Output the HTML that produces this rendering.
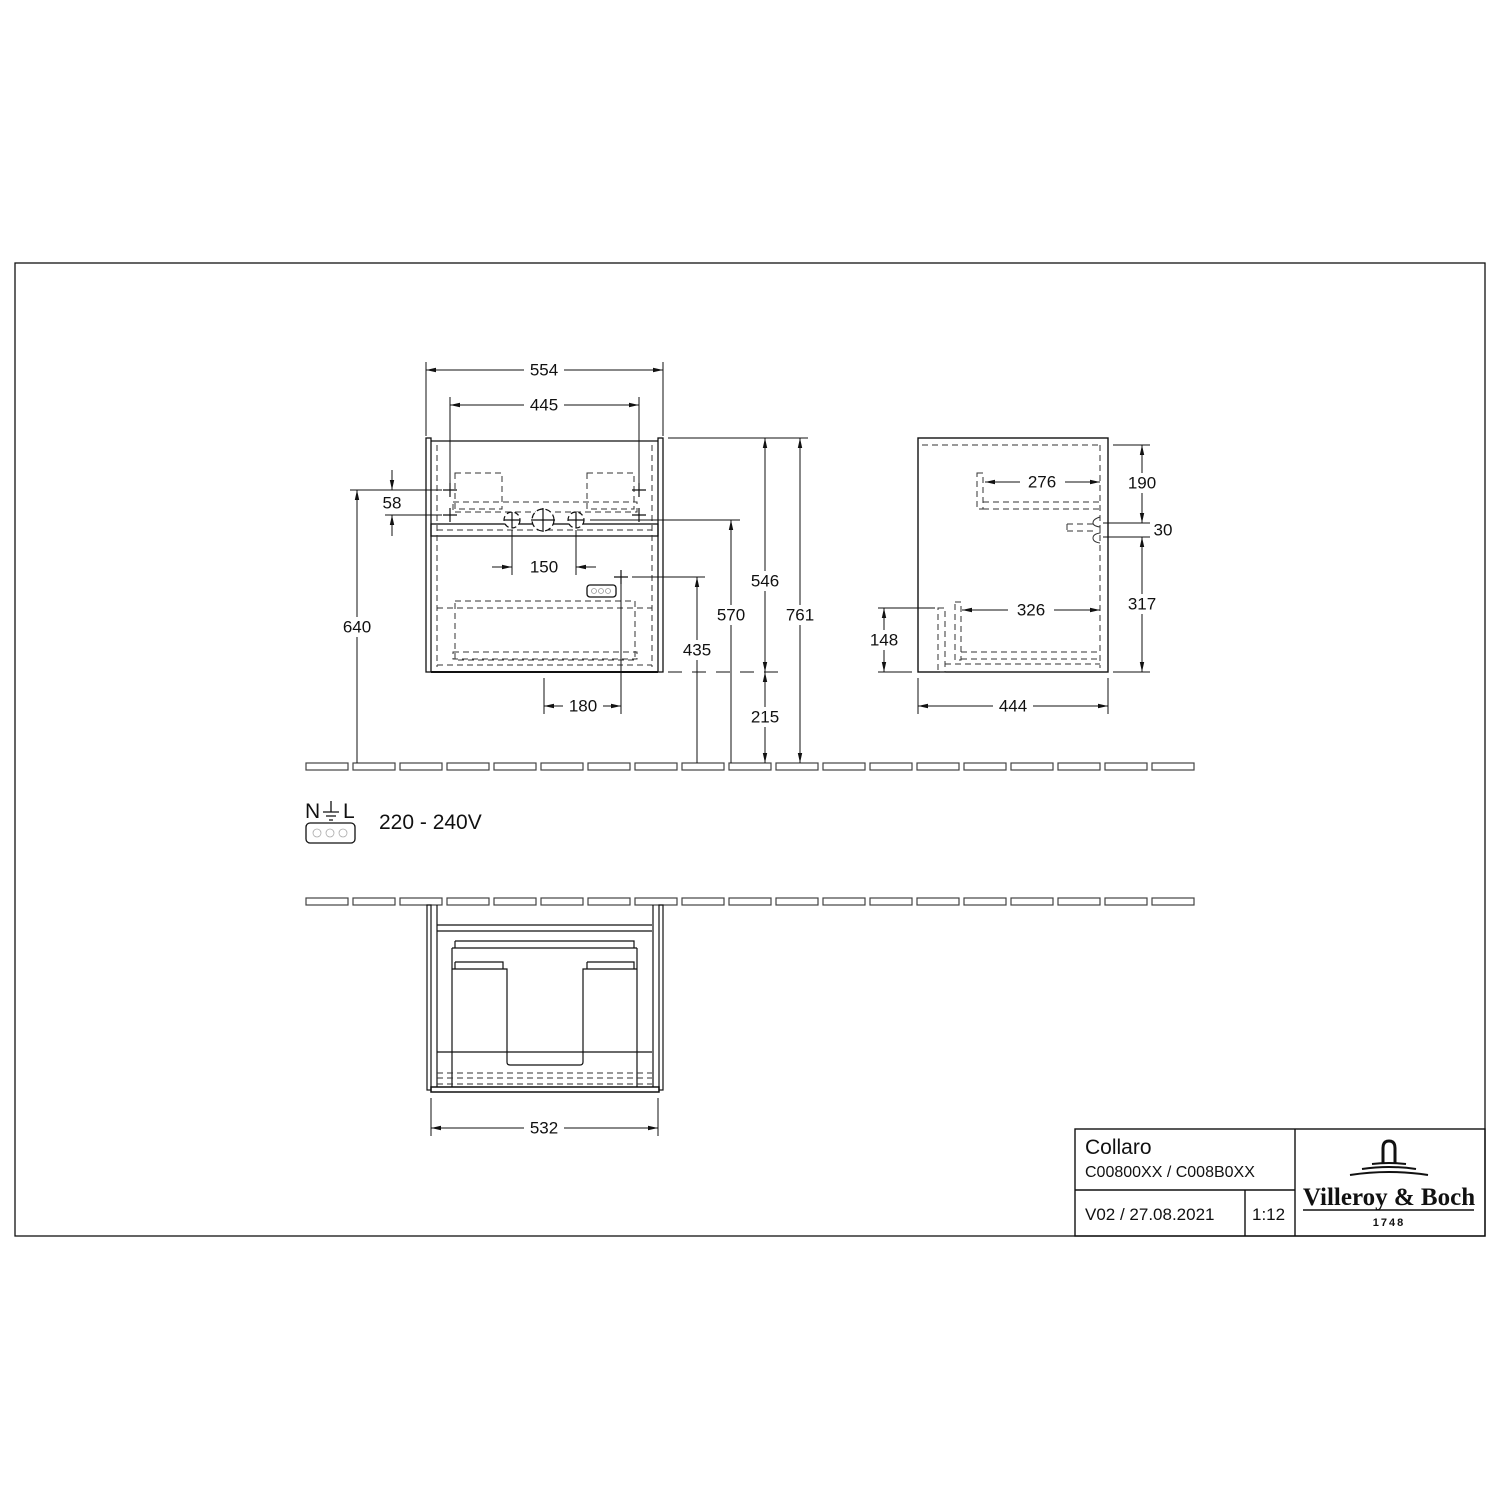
<!DOCTYPE html>
<html><head><meta charset="utf-8"><style>
html,body{margin:0;padding:0;background:#fff;}
svg{display:block;}
</style></head><body>
<svg width="1500" height="1500" viewBox="0 0 1500 1500" xmlns="http://www.w3.org/2000/svg" font-family="Liberation Sans, sans-serif" font-size="17" fill="#111">
<defs>
<marker id="a" viewBox="0 0 10 6" refX="10" refY="3" markerWidth="10" markerHeight="6" orient="auto-start-reverse" markerUnits="userSpaceOnUse"><path d="M0,0.8 L10,3 L0,5.2 z" fill="#111"/></marker>
<g id="cross"><path d="M-7,0 H7 M0,-7 V7" stroke="#111" stroke-width="1.2"/></g>
</defs>
<rect width="1500" height="1500" fill="#fff"/>
<rect x="15" y="263" width="1470" height="973" fill="none" stroke="#111" stroke-width="1.3"/>

<g fill="none" stroke="#444" stroke-width="1.2">
<g id="strip1">
<rect x="306" y="763" width="42" height="7"/><rect x="353" y="763" width="42" height="7"/><rect x="400" y="763" width="42" height="7"/><rect x="447" y="763" width="42" height="7"/><rect x="494" y="763" width="42" height="7"/><rect x="541" y="763" width="42" height="7"/><rect x="588" y="763" width="42" height="7"/><rect x="635" y="763" width="42" height="7"/><rect x="682" y="763" width="42" height="7"/><rect x="729" y="763" width="42" height="7"/><rect x="776" y="763" width="42" height="7"/><rect x="823" y="763" width="42" height="7"/><rect x="870" y="763" width="42" height="7"/><rect x="917" y="763" width="42" height="7"/><rect x="964" y="763" width="42" height="7"/><rect x="1011" y="763" width="42" height="7"/><rect x="1058" y="763" width="42" height="7"/><rect x="1105" y="763" width="42" height="7"/><rect x="1152" y="763" width="42" height="7"/>
</g>
<use href="#strip1" y="135"/>
</g>

<g fill="none" stroke="#111" stroke-width="1.3">
<rect x="426" y="438" width="5" height="234"/>
<rect x="658" y="438" width="5" height="234"/>
<line x1="431" y1="441" x2="658" y2="441"/>
<line x1="431" y1="672" x2="658" y2="672" stroke-width="2"/>
<rect x="431" y="524" width="227" height="12"/>
</g>
<g fill="none" stroke="#333" stroke-width="1" stroke-dasharray="6,4">
<line x1="437" y1="445" x2="437" y2="667"/><line x1="652" y1="445" x2="652" y2="667"/>
<rect x="455" y="473" width="47" height="36"/><rect x="587" y="473" width="47" height="36"/>
<rect x="453" y="502" width="184" height="10"/>
<line x1="437" y1="530" x2="652" y2="530"/>
<rect x="455" y="601" width="180" height="59"/>
<line x1="437" y1="608" x2="652" y2="608"/>
<rect x="453" y="652" width="184" height="7"/>
<line x1="437" y1="665" x2="652" y2="665"/>
</g>
<use href="#cross" x="450" y="490"/><use href="#cross" x="450" y="515"/>
<use href="#cross" x="639" y="490"/><use href="#cross" x="639" y="515"/>
<use href="#cross" x="621" y="577"/>
<g fill="#fff" stroke="#111" stroke-width="1.2">
<circle cx="512" cy="520" r="8" stroke-dasharray="5,3"/><circle cx="543" cy="520" r="11" stroke-dasharray="6,3"/><circle cx="576" cy="520" r="8" stroke-dasharray="5,3"/>
</g>
<path d="M504,520H520M512,512V528 M531,520H555M543,508V532 M568,520H584M576,512V528" stroke="#111" stroke-width="1.2"/>
<rect x="587" y="585" width="29" height="12" rx="3" fill="#fff" stroke="#111" stroke-width="1.3"/>
<g fill="none" stroke="#999" stroke-width="0.8"><circle cx="594" cy="591" r="2.5"/><circle cx="601" cy="591" r="2.5"/><circle cx="608" cy="591" r="2.5"/></g>

<g stroke="#111" stroke-width="1" fill="none">
<path d="M426,362V436 M663,362V436 M450,397V483 M639,397V483"/>
<line x1="426" y1="370" x2="663" y2="370" marker-start="url(#a)" marker-end="url(#a)"/>
<line x1="450" y1="405" x2="639" y2="405" marker-start="url(#a)" marker-end="url(#a)"/>
<path d="M350,490H442 M385,515H442"/>
<line x1="392" y1="470" x2="392" y2="490" marker-end="url(#a)"/>
<line x1="392" y1="536" x2="392" y2="515" marker-end="url(#a)"/>
<line x1="357" y1="763" x2="357" y2="490" marker-end="url(#a)"/>
<path d="M512,530V575 M576,530V575"/>
<line x1="492" y1="567" x2="512" y2="567" marker-end="url(#a)"/>
<line x1="596" y1="567" x2="576" y2="567" marker-end="url(#a)"/>
<path d="M632,577H705 M590,520H740 M668,438H808"/>
<line x1="697" y1="763" x2="697" y2="577" marker-end="url(#a)"/>
<line x1="731" y1="763" x2="731" y2="520" marker-end="url(#a)"/>
<line x1="765" y1="438" x2="765" y2="672" marker-start="url(#a)" marker-end="url(#a)"/>
<line x1="765" y1="672" x2="765" y2="763" marker-start="url(#a)" marker-end="url(#a)"/>
<line x1="800" y1="438" x2="800" y2="763" marker-start="url(#a)" marker-end="url(#a)"/>
<path d="M668,672H780" stroke-dasharray="14,10"/>
<path d="M544,678V714 M621,584V714"/>
<line x1="544" y1="706" x2="621" y2="706" marker-start="url(#a)" marker-end="url(#a)"/>
</g>
<g text-anchor="middle" dominant-baseline="central">
<rect x="524" y="360" width="40" height="20" fill="#fff"/><text x="544" y="370">554</text>
<rect x="524" y="395" width="40" height="20" fill="#fff"/><text x="544" y="405">445</text>
<text x="392" y="503">58</text>
<rect x="338" y="617" width="38" height="20" fill="#fff"/><text x="357" y="627">640</text>
<text x="544" y="567">150</text>
<rect x="677" y="640" width="40" height="20" fill="#fff"/><text x="697" y="650">435</text>
<rect x="711" y="605" width="40" height="20" fill="#fff"/><text x="731" y="615">570</text>
<rect x="745" y="571" width="40" height="20" fill="#fff"/><text x="765" y="581">546</text>
<rect x="745" y="707" width="40" height="20" fill="#fff"/><text x="765" y="717">215</text>
<rect x="780" y="605" width="40" height="20" fill="#fff"/><text x="800" y="615">761</text>
<rect x="563" y="696" width="40" height="20" fill="#fff"/><text x="583" y="706">180</text>
</g>

<rect x="918" y="438" width="190" height="234" fill="none" stroke="#111" stroke-width="1.4"/>
<g fill="none" stroke="#333" stroke-width="1" stroke-dasharray="6,4">
<line x1="922" y1="445" x2="1100" y2="445"/>
<line x1="1100" y1="445" x2="1100" y2="668"/>
<rect x="977" y="473" width="6" height="36"/>
<line x1="983" y1="502" x2="1100" y2="502"/><line x1="983" y1="509" x2="1100" y2="509"/>
<path d="M1067,524H1093 M1067,531H1093 M1067,524V531"/>
<rect x="955" y="602" width="6" height="58"/>
<line x1="961" y1="652" x2="1100" y2="652"/><line x1="961" y1="659" x2="1100" y2="659"/>
<rect x="938" y="608" width="7" height="64"/>
<line x1="945" y1="664" x2="1100" y2="664"/>
</g>
<path d="M1100,517 Q1093,519 1093,523 Q1093,526 1100,527 V533 Q1093,534 1093,538 Q1093,542 1100,543" fill="none" stroke="#333" stroke-width="1"/>
<g stroke="#111" stroke-width="1" fill="none">
<line x1="985" y1="482" x2="1020" y2="482" marker-start="url(#a)"/>
<line x1="1065" y1="482" x2="1100" y2="482" marker-end="url(#a)"/>
<line x1="962" y1="610" x2="1008" y2="610" marker-start="url(#a)"/>
<line x1="1054" y1="610" x2="1100" y2="610" marker-end="url(#a)"/>
<path d="M1113,445H1150 M1103,523H1150 M1103,537H1150 M1113,672H1150"/>
<line x1="1142" y1="445" x2="1142" y2="523" marker-start="url(#a)" marker-end="url(#a)"/>
<line x1="1142" y1="537" x2="1142" y2="672" marker-start="url(#a)" marker-end="url(#a)"/>
<path d="M878,608H935 M878,672H912"/>
<line x1="884" y1="608" x2="884" y2="672" marker-start="url(#a)" marker-end="url(#a)"/>
<path d="M918,678V714 M1108,678V714"/>
<line x1="918" y1="706" x2="1108" y2="706" marker-start="url(#a)" marker-end="url(#a)"/>
</g>
<g text-anchor="middle" dominant-baseline="central">
<text x="1042" y="482">276</text>
<text x="1031" y="610">326</text>
<rect x="1122" y="473" width="40" height="20" fill="#fff"/><text x="1142" y="483">190</text>
<text x="1163" y="530">30</text>
<rect x="1122" y="594" width="40" height="20" fill="#fff"/><text x="1142" y="604">317</text>
<rect x="864" y="630" width="40" height="20" fill="#fff"/><text x="884" y="640">148</text>
<rect x="993" y="696" width="40" height="20" fill="#fff"/><text x="1013" y="706">444</text>
</g>

<text x="305" y="818" font-size="21">N</text>
<path d="M331,801V812 M323,812H339 M326,816H336 M329,820H333" stroke="#111" stroke-width="1.3"/>
<text x="343" y="818" font-size="21">L</text>
<rect x="306" y="823" width="49" height="20" rx="4" fill="none" stroke="#111" stroke-width="1.3"/>
<g fill="none" stroke="#aaa" stroke-width="0.8"><circle cx="317" cy="833" r="4"/><circle cx="330" cy="833" r="4"/><circle cx="343" cy="833" r="4"/></g>
<text x="379" y="829" font-size="21">220 - 240V</text>

<g fill="none" stroke="#111" stroke-width="1.2">
<rect x="427" y="905" width="4" height="185"/>
<rect x="659" y="905" width="4" height="185"/>
<rect x="431" y="1087" width="228" height="5" stroke-width="1.5"/>
<path d="M437,925H652 M437,931H652 M437,905V1087 M653,905V1087"/>
<path d="M455,941H634V948 M455,941V948 M452,948H637 M452,948V1087 M637,948V1087"/>
<path d="M455,962H503V969 M455,962V969 M587,962H634V969 M587,962V969 M452,969H507V1062 Q507,1065 510,1065H580 Q583,1065 583,1062V969H637"/>
<path d="M437,1052H652"/>
</g>
<g fill="none" stroke="#333" stroke-width="1" stroke-dasharray="6,4">
<line x1="437" y1="1078" x2="652" y2="1078"/><line x1="437" y1="1084" x2="652" y2="1084"/>
<line x1="437" y1="1073" x2="652" y2="1073"/>
</g>
<g stroke="#111" stroke-width="1" fill="none">
<path d="M431,1098V1136 M658,1098V1136"/>
<line x1="431" y1="1128" x2="658" y2="1128" marker-start="url(#a)" marker-end="url(#a)"/>
</g>
<rect x="524" y="1118" width="40" height="20" fill="#fff"/>
<text x="544" y="1128" text-anchor="middle" dominant-baseline="central">532</text>

<g fill="none" stroke="#111" stroke-width="1.4">
<rect x="1075" y="1129" width="410" height="107"/>
<path d="M1295,1129V1236 M1075,1190H1295 M1245,1190V1236"/>
</g>
<text x="1085" y="1154" font-size="21">Collaro</text>
<text x="1085" y="1177" font-size="16">C00800XX / C008B0XX</text>
<text x="1085" y="1220" font-size="17">V02 / 27.08.2021</text>
<text x="1252" y="1220" font-size="17">1:12</text>
<path d="M1383,1163V1148 Q1383,1141 1389,1141 Q1395,1141 1395,1148V1163" fill="none" stroke="#111" stroke-width="3"/>
<path d="M1372,1164 Q1389,1162 1406,1164 M1362,1169 Q1389,1165 1416,1169 M1350,1175 Q1389,1169 1428,1175" fill="none" stroke="#111" stroke-width="2"/>
<text x="1389" y="1205" text-anchor="middle" font-family="Liberation Serif, serif" font-size="25" font-weight="bold">Villeroy &amp; Boch</text>
<line x1="1303" y1="1210" x2="1474" y2="1210" stroke="#111" stroke-width="1.5"/>
<text x="1389" y="1226" text-anchor="middle" font-size="11" font-weight="bold" letter-spacing="2">1748</text>
</svg>
</body></html>
